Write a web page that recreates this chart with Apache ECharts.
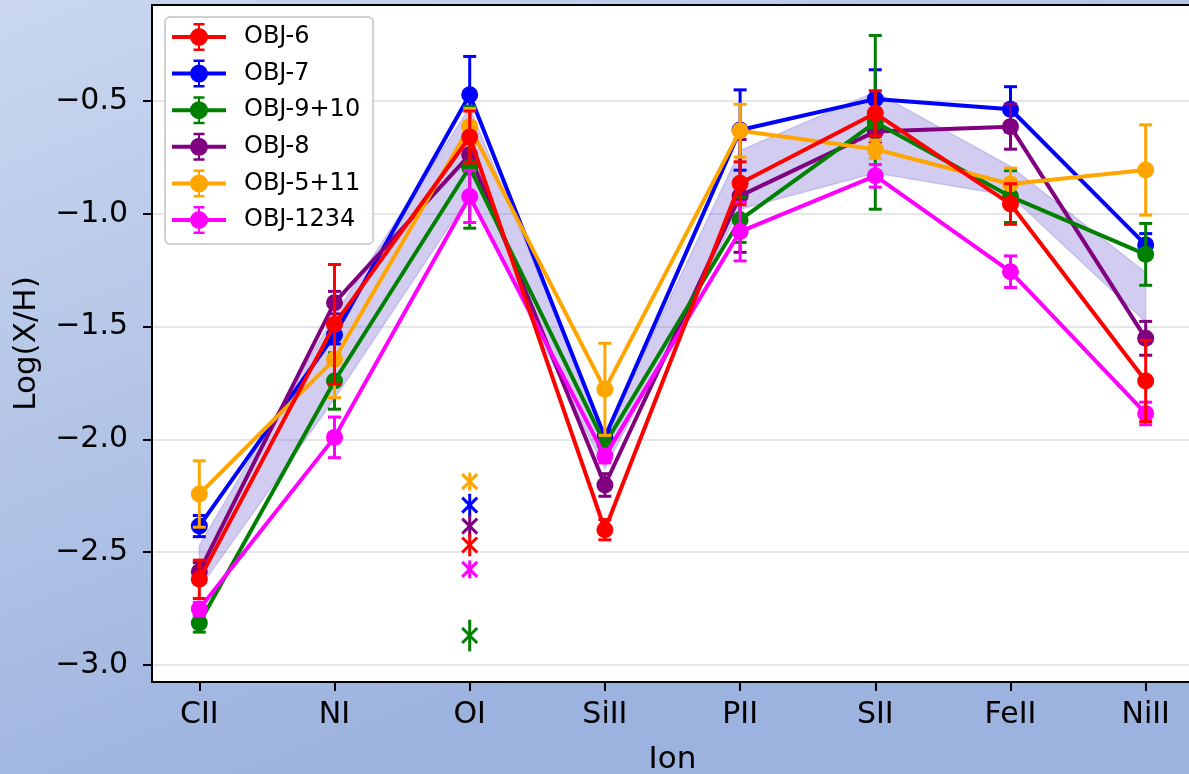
<!DOCTYPE html>
<html>
<head>
<meta charset="utf-8">
<script src="https://cdn.jsdelivr.net/npm/echarts@6/dist/echarts.min.js"></script>
<style>
html,body{margin:0;padding:0;}
#chart{width:1189px;height:774px;}
</style>
</head>
<body>
<div id="chart"></div>
<script>
// ---- data ----
const ions = ['CII', 'NI', 'OI', 'SiII', 'PII', 'SII', 'FeII', 'NiII'];
const yTicks = [-3.0, -2.5, -2.0, -1.5, -1.0, -0.5];

const obj6 = [-2.62, -1.49, -0.66, -2.40, -0.865, -0.555, -0.957, -1.741];
const obj6Err = [0.085, 0.265, 0.115, 0.045, 0.095, 0.10, 0.09, 0.18];
const obj7 = [-2.384, -1.537, -0.473, -1.99, -0.629, -0.492, -0.537, -1.138];
const obj7Err = [0.047, 0.04, 0.17, 0.03, 0.178, 0.13, 0.10, 0.05];
const obj910 = [-2.814, -1.741, -0.794, -2.02, -1.027, -0.595, -0.924, -1.18];
const obj910Err = [0.04, 0.125, 0.27, 0.03, 0.10, 0.385, 0.115, 0.137];
const obj8 = [-2.586, -1.394, -0.739, -2.202, -0.921, -0.636, -0.614, -1.552];
const obj8Err = [0.04, 0.05, 0.05, 0.05, 0.25, 0.05, 0.10, 0.075];
const obj511 = [-2.242, -1.645, -0.614, -1.778, -0.632, -0.714, -0.868, -0.806];
const obj511Err = [0.147, 0.17, 0.08, 0.204, 0.117, 0.04, 0.07, 0.20];
const obj1234 = [-2.752, -1.991, -0.924, -2.074, -1.079, -0.832, -1.257, -1.885];
const obj1234Err = [0.03, 0.09, 0.115, 0.03, 0.13, 0.05, 0.07, 0.05];

// OI upper limits (x markers)
const limIon = 'OI';
const limVals = { 'OBJ-6': -2.468, 'OBJ-7': -2.291, 'OBJ-9+10': -2.869, 'OBJ-8': -2.384, 'OBJ-5+11': -2.187, 'OBJ-1234': -2.576 };
const limErr = { 'OBJ-6': 0.05, 'OBJ-7': 0.05, 'OBJ-9+10': 0.07, 'OBJ-8': 0.05, 'OBJ-5+11': 0.04, 'OBJ-1234': 0.04 };

// shaded band
const bandUpper = [-2.47, -1.45, -0.53, -1.98, -0.72, -0.46, -0.79, -1.26];
const bandLower = [-2.66, -1.82, -0.92, -2.13, -0.98, -0.82, -0.92, -1.48];

// ---- series definitions (drawing order bottom -> top) ----
const objs = [
  { name: 'OBJ-7', vals: obj7, err: obj7Err, color: '#0000ff', z: 10 },
  { name: 'OBJ-8', vals: obj8, err: obj8Err, color: '#800080', z: 12 },
  { name: 'OBJ-9+10', vals: obj910, err: obj910Err, color: '#008000', z: 14 },
  { name: 'OBJ-5+11', vals: obj511, err: obj511Err, color: '#ffa500', z: 16 },
  { name: 'OBJ-1234', vals: obj1234, err: obj1234Err, color: '#ff00ff', z: 18 },
  { name: 'OBJ-6', vals: obj6, err: obj6Err, color: '#ff0000', z: 20 }
];
const legendOrder = ['OBJ-6', 'OBJ-7', 'OBJ-9+10', 'OBJ-8', 'OBJ-5+11', 'OBJ-1234'];

const legendIcon = 'path://M0,12H54V16H0Z M26,0H28V28H26Z M21.5,0H32.5V2.5H21.5Z M21.5,25.5H32.5V28H21.5Z M18,14A9,9 0 1 1 36,14A9,9 0 1 1 18,14Z';

function errRenderer(color, capHalf, lw) {
  return function (params, api) {
    const x = api.value(0), y = api.value(1), e = api.value(2);
    const t = api.coord([x, y + e]);
    const b = api.coord([x, y - e]);
    const st = { stroke: color, lineWidth: lw, fill: null };
    return {
      type: 'group',
      children: [
        { type: 'line', shape: { x1: t[0], y1: t[1], x2: b[0], y2: b[1] }, style: st },
        { type: 'line', shape: { x1: t[0] - capHalf, y1: t[1], x2: t[0] + capHalf, y2: t[1] }, style: st },
        { type: 'line', shape: { x1: b[0] - capHalf, y1: b[1], x2: b[0] + capHalf, y2: b[1] }, style: st }
      ]
    };
  };
}

const series = [];

// band
series.push({
  type: 'custom',
  name: 'band',
  z: 1,
  silent: true,
  data: [[0, bandUpper[0]]],
  encode: { x: 0, y: 1 },
  renderItem: function (params, api) {
    const pts = [];
    for (let i = 0; i < ions.length; i++) pts.push(api.coord([i, bandUpper[i]]));
    for (let i = ions.length - 1; i >= 0; i--) pts.push(api.coord([i, bandLower[i]]));
    return {
      type: 'polygon',
      shape: { points: pts },
      style: { fill: 'rgba(106,90,205,0.3)', stroke: 'rgba(106,90,205,0.25)', lineWidth: 1.5 }
    };
  }
});

const limX = ions.indexOf(limIon);
objs.forEach(function (o) {
  series.push({
    type: 'custom',
    name: o.name + ' err',
    z: o.z,
    silent: true,
    encode: { x: 0, y: 1 },
    data: o.vals.map(function (v, i) { return [i, v, o.err[i]]; }),
    renderItem: errRenderer(o.color, 6.5, 3)
  });
  series.push({
    type: 'line',
    name: o.name,
    z: o.z + 1,
    data: o.vals.map(function (v, i) { return [i, v]; }),
    symbol: 'circle',
    symbolSize: 17,
    showSymbol: true,
    lineStyle: { color: o.color, width: 4 },
    itemStyle: { color: o.color, borderWidth: 0 }
  });
  series.push({
    type: 'custom',
    name: o.name + ' limit',
    z: o.z,
    silent: true,
    encode: { x: 0, y: 1 },
    data: [[limX, limVals[o.name], limErr[o.name]]],
    renderItem: function (params, api) {
      const x = api.value(0), y = api.value(1), e = api.value(2);
      const c = api.coord([x, y]);
      const t = api.coord([x, y + e]);
      const b = api.coord([x, y - e]);
      const h = 7.5;
      const st = { stroke: o.color, lineWidth: 3, fill: null };
      return {
        type: 'group',
        children: [
          { type: 'line', shape: { x1: t[0], y1: t[1], x2: b[0], y2: b[1] }, style: st },
          { type: 'line', shape: { x1: c[0] - h, y1: c[1] - h, x2: c[0] + h, y2: c[1] + h }, style: st },
          { type: 'line', shape: { x1: c[0] - h, y1: c[1] + h, x2: c[0] + h, y2: c[1] - h }, style: st }
        ]
      };
    }
  });
});

const chart = echarts.init(document.getElementById('chart'), null, { renderer: 'canvas' });
chart.setOption({
  animation: false,
  backgroundColor: {
    type: 'linear', x: 0, y: 0, x2: 0.25, y2: 1,
    colorStops: [{ offset: 0, color: '#cad7ef' }, { offset: 1, color: '#9db3df' }]
  },
  textStyle: { fontFamily: 'DejaVu Sans', color: '#000' },
  grid: {
    left: 152, top: 5, right: -4, bottom: 92,
    outerBoundsMode: 'none',
    containLabel: false,
    show: true, backgroundColor: '#ffffff', borderColor: '#000', borderWidth: 2
  },
  legend: {
    data: legendOrder,
    orient: 'vertical',
    left: 165, top: 17,
    padding: [6, 13, 10, 7],
    itemWidth: 54, itemHeight: 28, itemGap: 8.6,
    icon: legendIcon,
    backgroundColor: 'rgba(255,255,255,0.85)',
    borderColor: '#d0d0d0', borderWidth: 2, borderRadius: 5,
    textStyle: { fontFamily: 'DejaVu Sans', fontSize: 24, color: '#000', padding: [0, 0, 0, 13] }
  },
  xAxis: {
    type: 'value',
    min: -0.35, max: 7.35,
    name: 'Ion', nameLocation: 'middle', nameGap: 62,
    nameTextStyle: { fontFamily: 'DejaVu Sans', fontSize: 31, color: '#000' },
    axisLine: { show: true, onZero: false, lineStyle: { color: '#000', width: 2 } },
    axisTick: { show: true, length: 9, lineStyle: { color: '#000', width: 2 }, customValues: ions.map(function (_, i) { return i; }) },
    axisLabel: {
      margin: 18, fontFamily: 'DejaVu Sans', fontSize: 30, color: '#000',
      customValues: ions.map(function (_, i) { return i; }),
      formatter: function (v) { return ions[Math.round(v)]; }
    },
    splitLine: { show: false }
  },
  yAxis: {
    type: 'value',
    min: -3.075, max: -0.075,
    name: 'Log(X/H)', nameLocation: 'middle', nameGap: 110,
    nameTextStyle: { fontFamily: 'DejaVu Sans', fontSize: 31, color: '#000' },
    axisLine: { show: true, onZero: false, lineStyle: { color: '#000', width: 2 } },
    axisTick: { show: true, length: 9, lineStyle: { color: '#000', width: 2 }, customValues: yTicks },
    axisLabel: {
      margin: 24, fontFamily: 'DejaVu Sans', fontSize: 30, color: '#000',
      customValues: yTicks,
      formatter: function (v) { return v.toFixed(1).replace('-', '\u2212'); }
    },
    splitLine: { show: true, lineStyle: { color: '#e6e6e6', width: 2 } }
  },
  series: series
});
</script>
</body>
</html>
